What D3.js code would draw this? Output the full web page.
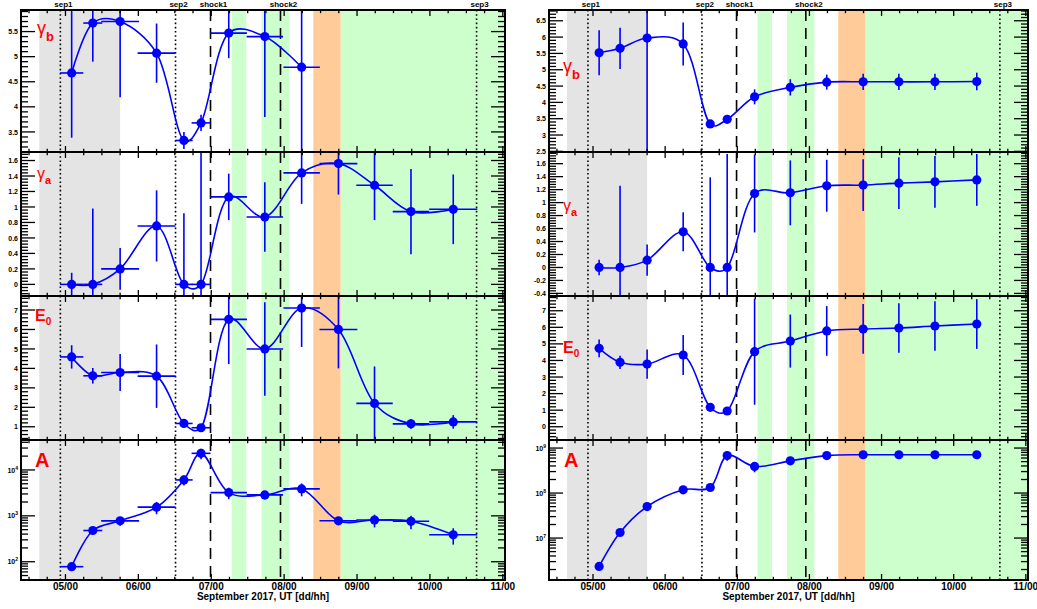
<!DOCTYPE html>
<html><head><meta charset="utf-8">
<script src="https://cdn.jsdelivr.net/npm/d3@7"></script>
<style>body{margin:0;background:#fff} text{font-family:"Liberation Sans", Arial, sans-serif;}</style>
</head><body><svg id="c" width="1037" height="609"></svg>
<script>
// ---------- data ----------
const days    = [5.085, 5.375, 5.75, 6.25, 6.625, 6.86, 7.24, 7.735, 8.24, 8.745, 9.24, 9.74, 10.32];
const dayErr  = [0.16, 0.13, 0.26, 0.26, 0.12, 0.13, 0.25, 0.25, 0.25, 0.26, 0.25, 0.25, 0.33];

// left column (fit with bins)
const gammaB_L    = [4.675, 5.67, 5.70, 5.07, 3.33, 3.68, 5.47, 5.40, 4.79];
const gammaB_Lerr = [1.29, 0.77, 1.51, 0.59, 0.17, 0.16, 0.50, 1.60, 2.0];
const gammaA_L    = [0, 0, 0.20, 0.755, 0, 0, 1.13, 0.87, 1.44, 1.56, 1.28, 0.94, 0.97];
const gammaA_Lerr = [0.15, 0.98, 0.27, 0.46, 0.92, 1.8, 0.30, 0.45, 0.40, 0.40, 0.45, 0.55, 0.45];
const E0_L        = [4.59, 3.62, 3.79, 3.60, 1.17, 0.95, 6.52, 5.0, 7.1, 6.0, 2.2, 1.15, 1.25];
const E0_Lerr     = [0.6, 0.4, 0.95, 1.63, 0.15, 0.12, 2.3, 2.4, 2.0, 2.0, 1.9, 0.25, 0.35];
const A_L         = [78, 479, 778, 1545, 6060, 23000, 3210, 2860, 3860, 780, 810, 760, 386];
const A_Lerr      = [8, 90, 170, 460, 1500, 6000, 900, 600, 1200, 150, 250, 250, 150];

// right column
const gammaB_R    = [5.52, 5.655, 5.97, 5.79, 3.34, 3.48, 4.17, 4.46, 4.62, 4.63, 4.63, 4.63, 4.64];
const gammaB_Rerr = [0.69, 0.63, 4.0, 0.66, 0.1, 0.1, 0.23, 0.25, 0.23, 0.25, 0.25, 0.25, 0.27];
const gammaA_R    = [0, 0, 0.113, 0.55, 0, 0, 1.14, 1.15, 1.26, 1.27, 1.30, 1.32, 1.35];
const gammaA_Rerr = [0.12, 1.26, 0.24, 0.30, 1.39, 1.75, 0.60, 0.50, 0.40, 0.40, 0.40, 0.40, 0.40];
const E0_R        = [4.73, 3.89, 3.78, 4.33, 1.17, 0.95, 4.53, 5.17, 5.78, 5.9, 5.96, 6.08, 6.2];
const E0_Rerr     = [0.53, 0.4, 0.88, 1.2, 0.1, 0.1, 3.2, 1.6, 1.5, 1.5, 1.5, 1.5, 1.5];
const A_R         = [2.34e6, 1.33e7, 5.0e7, 1.18e8, 1.33e8, 6.8e8, 3.9e8, 5.2e8, 6.8e8, 7.1e8, 7.1e8, 7.1e8, 7.1e8];
const A_Rerr      = [0.3e6, 0.2e7, 0.6e7, 0.2e8, 0.25e8, 1.6e8, 1.0e8, 1.0e8, 1.2e8, 1.3e8, 1.3e8, 1.3e8, 1.3e8];

// events and shaded intervals (day of September 2017)
const eventNames = ["sep1", "sep2", "shock1", "shock2", "sep3"];
const eventDays  = [4.93, 6.51, 6.99, 7.95, 10.64];
const greyBand   = [4.64, 5.75];
const greenBands = [[7.28, 7.48], [7.69, 8.07], [8.775, 11.03]];
const orangeBand = [8.40, 8.775];

const dayTicks  = [5, 6, 7, 8, 9, 10, 11];
const dayLabels = ["05/00", "06/00", "07/00", "08/00", "09/00", "10/00", "11/00"];

const ticks_gB_L = [3.5, 4, 4.5, 5, 5.5];
const ticks_gA_L = [0, 0.2, 0.4, 0.6, 0.8, 1, 1.2, 1.4, 1.6];
const ticks_E0_L = [1, 2, 3, 4, 5, 6, 7];
const ticks_A_L  = [1e2, 1e3, 1e4];
const ticks_gB_R = [2.5, 3, 3.5, 4, 4.5, 5, 5.5, 6, 6.5];
const ticks_gA_R = [-0.4, -0.2, 0, 0.2, 0.4, 0.6, 0.8, 1, 1.2, 1.4, 1.6];
const ticks_E0_R = [0, 1, 2, 3, 4, 5, 6, 7];
const ticks_A_R  = [1e7, 1e8, 1e9];

// ---------- layout ----------
const svg = d3.select("#c");
const rows = [10, 152, 296, 440, 580];
const cols = [{x0: 21, x1: 505}, {x0: 549, x1: 1028}];
const dayDomain = [4.39, 11.03];
const BLUE = "#0000ff", RED = "#ff0000";

function fmt(v) { return String(+v.toFixed(3)); }

function panel(c, r, spec) {
  const {x0, x1} = cols[c];
  const y0 = rows[r], y1 = rows[r + 1];
  const x = d3.scaleLinear().domain(dayDomain).range([x0, x1]);
  const y = (spec.log ? d3.scaleLog() : d3.scaleLinear()).domain(spec.domain).range([y1, y0]);
  const g = svg.append("g");
  const id = "clip" + c + r;
  g.append("clipPath").attr("id", id).append("rect")
    .attr("x", x0).attr("y", y0).attr("width", x1 - x0).attr("height", y1 - y0);
  g.append("rect").attr("x", x0).attr("y", y0).attr("width", x1 - x0).attr("height", y1 - y0).attr("fill", "#fff");
  const body = g.append("g").attr("clip-path", `url(#${id})`);
  const band = (b, col) => body.append("rect").attr("x", x(b[0])).attr("y", y0)
      .attr("width", x(b[1]) - x(b[0])).attr("height", y1 - y0).attr("fill", col);
  band(greyBand, "#e4e4e4");
  greenBands.forEach(b => band(b, "#ccffcc"));
  band(orangeBand, "#ffcc99");
  eventDays.forEach((d, i) => {
    body.append("line").attr("x1", x(d)).attr("x2", x(d)).attr("y1", y0).attr("y2", y1)
      .attr("stroke", "#000").attr("stroke-width", 1.6)
      .attr("stroke-dasharray", eventNames[i].startsWith("shock") ? "11,7" : "1.6,2.6");
  });
  const vals = spec.vals, errs = spec.errs;
  const pts = vals.map((v, i) => [days[i], v]);
  pts.forEach(([d, v], i) => {
    const lo = spec.log ? Math.max(v - errs[i], spec.domain[0] * 0.5) : v - errs[i];
    body.append("line").attr("x1", x(d)).attr("x2", x(d)).attr("y1", y(lo)).attr("y2", y(v + errs[i]))
      .attr("stroke", BLUE).attr("stroke-width", 1.6);
    if (spec.xerr) {
      body.append("line").attr("x1", x(d - dayErr[i])).attr("x2", x(d + dayErr[i])).attr("y1", y(v)).attr("y2", y(v))
        .attr("stroke", BLUE).attr("stroke-width", 1.6);
    }
  });
  body.append("path").datum(pts)
    .attr("d", d3.line().x(p => x(p[0])).y(p => y(p[1])).curve(d3.curveCatmullRom.alpha(0.3)))
    .attr("fill", "none").attr("stroke", BLUE).attr("stroke-width", 1.6);
  body.selectAll("circle.m").data(pts).enter().append("circle")
    .attr("cx", p => x(p[0])).attr("cy", p => y(p[1])).attr("r", 4.6).attr("fill", BLUE);

  g.append("rect").attr("x", x0).attr("y", y0).attr("width", x1 - x0).attr("height", y1 - y0)
    .attr("fill", "none").attr("stroke", "#000").attr("stroke-width", 2);
  const ax = g.append("g").attr("stroke", "#000").attr("stroke-width", 1.3);
  for (let t = 4.5; t <= 11.001; t += 0.25) {
    const major = Math.abs(t - Math.round(t)) < 1e-6;
    const L = major ? 6 : 3.2;
    const px = x(t);
    if (px < x0 || px > x1) continue;
    ax.append("line").attr("x1", px).attr("x2", px).attr("y1", y0).attr("y2", y0 + L);
    ax.append("line").attr("x1", px).attr("x2", px).attr("y1", y1).attr("y2", y1 - L);
  }
  const yMinor = [];
  if (spec.log) {
    const e0 = Math.floor(Math.log10(spec.domain[0])), e1 = Math.ceil(Math.log10(spec.domain[1]));
    for (let e = e0; e <= e1; e++) for (let k = 1; k <= 9; k++) {
      const v = k * Math.pow(10, e);
      if (v >= spec.domain[0] && v <= spec.domain[1]) yMinor.push([v, k === 1]);
    }
  } else {
    const s = spec.minor;
    for (let v = Math.ceil(spec.domain[0] / s) * s; v <= spec.domain[1] + 1e-9; v += s) {
      const isMajor = spec.ticks.some(t => Math.abs(t - v) < s * 0.01);
      yMinor.push([v, isMajor]);
    }
  }
  yMinor.forEach(([v, isMajor]) => {
    const L = isMajor ? 14 : 7;
    ax.append("line").attr("x1", x0).attr("x2", x0 + L).attr("y1", y(v)).attr("y2", y(v));
    ax.append("line").attr("x1", x1).attr("x2", x1 - L).attr("y1", y(v)).attr("y2", y(v));
  });
  spec.ticks.forEach(t => {
    const tx = g.append("text").attr("x", x0 - 3).attr("y", y(t) + 2.6).attr("text-anchor", "end")
      .attr("font-size", 7).attr("font-weight", "bold").attr("fill", "#000");
    if (spec.log) {
      tx.append("tspan").text("10");
      tx.append("tspan").attr("dy", -3).attr("font-size", 5).text(Math.round(Math.log10(t)));
    } else tx.text(fmt(t));
  });
  if (r === 3) {
    dayTicks.forEach((t, i) => {
      g.append("text").attr("x", x(t)).attr("y", 590).attr("text-anchor", "middle")
        .attr("font-size", 10).attr("font-weight", "bold").text(dayLabels[i]);
    });
    g.append("text").attr("x", (x0 + x1) / 2).attr("y", 600).attr("text-anchor", "middle")
      .attr("font-size", 10).attr("font-weight", "bold").text("September 2017, UT [dd/hh]");
  }
  if (r === 0) {
    eventDays.forEach((d, i) => {
      g.append("text").attr("x", x(d) + 3).attr("y", 6.5).attr("text-anchor", "middle")
        .attr("font-size", 8).attr("font-weight", "bold").text(eventNames[i]);
    });
  }
  const lab = g.append("text").attr("x", spec.lx).attr("y", spec.ly).attr("fill", RED).attr("font-weight", "bold");
  lab.append("tspan").attr("font-size", spec.ls).attr("font-weight", spec.lw || "bold").text(spec.label);
  if (spec.sub) lab.append("tspan").attr("font-size", spec.ss).attr("dy", spec.sdy).text(spec.sub);
}

panel(0, 0, {vals: gammaB_L, errs: gammaB_Lerr, domain: [3.1, 5.93], ticks: ticks_gB_L, minor: 0.1, xerr: true,
  label: "γ", sub: "b", lx: 37, ly: 34, ls: 18, lw: "normal", ss: 13, sdy: 7});
panel(0, 1, {vals: gammaA_L, errs: gammaA_Lerr, domain: [-0.15, 1.71], ticks: ticks_gA_L, minor: 0.04, xerr: true,
  label: "γ", sub: "a", lx: 37, ly: 179, ls: 16, lw: "normal", ss: 11, sdy: 5});
panel(0, 2, {vals: E0_L, errs: E0_Lerr, domain: [0.32, 7.72], ticks: ticks_E0_L, minor: 0.2, xerr: true,
  label: "E", sub: "0", lx: 35, ly: 321, ls: 16, ss: 10, sdy: 4});
panel(0, 3, {vals: A_L, errs: A_Lerr, domain: [40, 44900], ticks: ticks_A_L, log: true, xerr: true,
  label: "A", lx: 35, ly: 467, ls: 20});
panel(1, 0, {vals: gammaB_R, errs: gammaB_Rerr, domain: [2.48, 6.83], ticks: ticks_gB_R, minor: 0.1, xerr: false,
  label: "γ", sub: "b", lx: 563, ly: 72, ls: 18, lw: "normal", ss: 13, sdy: 7});
panel(1, 1, {vals: gammaA_R, errs: gammaA_Rerr, domain: [-0.44, 1.78], ticks: ticks_gA_R, minor: 0.04, xerr: false,
  label: "γ", sub: "a", lx: 563, ly: 211, ls: 16, lw: "normal", ss: 11, sdy: 5});
panel(1, 2, {vals: E0_R, errs: E0_Rerr, domain: [-0.8, 7.89], ticks: ticks_E0_R, minor: 0.2, xerr: false,
  label: "E", sub: "0", lx: 563, ly: 353, ls: 16, ss: 10, sdy: 4});
panel(1, 3, {vals: A_R, errs: A_Rerr, domain: [1.17e6, 1.51e9], ticks: ticks_A_R, log: true, xerr: false,
  label: "A", lx: 564, ly: 467, ls: 20});
</script></body></html>
